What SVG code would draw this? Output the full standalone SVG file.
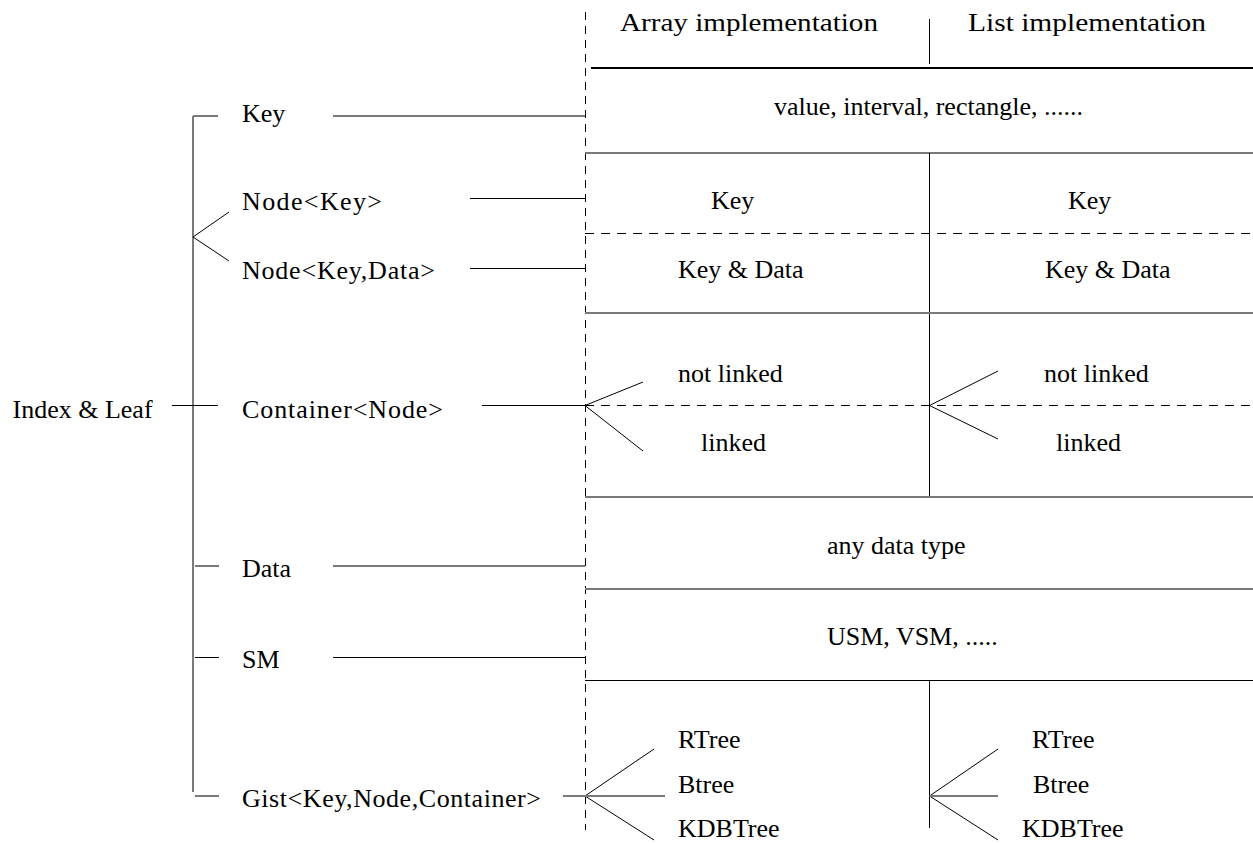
<svg xmlns="http://www.w3.org/2000/svg" width="1253" height="843" viewBox="0 0 1253 843">
<style>
text{font-family:"Liberation Serif","Times New Roman",serif;font-size:26px;fill:#000}
.k{stroke:#000;stroke-width:1;fill:none}
.g{stroke:#7a7a7a;stroke-width:2;fill:none}
.dv{stroke:#000;stroke-width:1;stroke-dasharray:8 6;fill:none}
.dh{stroke:#000;stroke-width:1;stroke-dasharray:9 7;fill:none}
</style>
<rect width="1253" height="843" fill="#fff"/>
<g id="connectors">
  <line class="g" x1="193" y1="116" x2="193" y2="792"/>
  <line class="k" x1="172" y1="405.5" x2="218" y2="405.5"/>
  <line class="g" x1="193" y1="116" x2="218" y2="116"/>
  <line class="g" x1="333" y1="116" x2="585" y2="116"/>
  <polyline class="k" points="229,212 193,237 229,261"/>
  <line class="k" x1="470" y1="198.5" x2="585" y2="198.5"/>
  <line class="k" x1="470" y1="268.5" x2="585" y2="268.5"/>
  <line class="k" x1="482" y1="405.5" x2="585" y2="405.5"/>
  <line class="g" x1="195" y1="566" x2="219" y2="566"/>
  <line class="g" x1="333" y1="566" x2="585" y2="566"/>
  <line class="k" x1="195" y1="657.5" x2="219" y2="657.5"/>
  <line class="k" x1="333" y1="657.5" x2="585" y2="657.5"/>
  <line class="g" x1="195" y1="796" x2="219" y2="796"/>
  <line class="g" x1="563" y1="796" x2="585" y2="796"/>
  <line class="dv" x1="585.5" y1="12" x2="585.5" y2="830"/>
  <line class="k" x1="929.5" y1="19" x2="929.5" y2="64"/>
  <line stroke="#000" stroke-width="2" x1="591" y1="68" x2="1253" y2="68"/>
  <line class="g" x1="585" y1="153" x2="1253" y2="153"/>
  <line class="k" x1="929.5" y1="153" x2="929.5" y2="497"/>
  <line class="dh" x1="585" y1="233.5" x2="1253" y2="233.5"/>
  <line class="g" x1="585" y1="313" x2="1253" y2="313"/>
  <line class="dh" x1="585" y1="405.5" x2="1253" y2="405.5"/>
  <polyline class="k" points="643,382 585,405.5 643,451"/>
  <polyline class="k" points="998,371 929.5,405.5 998,439"/>
  <line class="g" x1="585" y1="497" x2="1253" y2="497"/>
  <line class="g" x1="585" y1="589" x2="1253" y2="589"/>
  <line class="k" x1="585" y1="680.5" x2="1253" y2="680.5"/>
  <line class="k" x1="929.5" y1="680" x2="929.5" y2="828"/>
  <polyline class="k" points="654,749 585,796 654,840"/>
  <line class="g" x1="585" y1="796" x2="665" y2="796"/>
  <polyline class="k" points="998,749 929.5,796 998,840"/>
  <line class="g" x1="929.5" y1="796" x2="998" y2="796"/>
</g>
<g id="root"><text x="12.5" y="418">Index &amp; Leaf</text></g>
<g id="key"><text x="242" y="122">Key</text></g>
<g id="node-key"><text x="242" y="210" textLength="140" lengthAdjust="spacing">Node&lt;Key&gt;</text></g>
<g id="node-key-data"><text x="242" y="279" textLength="193" lengthAdjust="spacing">Node&lt;Key,Data&gt;</text></g>
<g id="container"><text x="242" y="418" textLength="201" lengthAdjust="spacing">Container&lt;Node&gt;</text></g>
<g id="data"><text x="242" y="577">Data</text></g>
<g id="sm"><text x="242" y="668">SM</text></g>
<g id="gist"><text x="242" y="807" textLength="299" lengthAdjust="spacing">Gist&lt;Key,Node,Container&gt;</text></g>
<g id="header-array"><text x="620" y="31" textLength="258" lengthAdjust="spacingAndGlyphs">Array implementation</text></g>
<g id="header-list"><text x="968" y="31" textLength="238" lengthAdjust="spacingAndGlyphs">List implementation</text></g>
<g id="row-key"><text x="774" y="115">value, interval, rectangle, ......</text></g>
<g id="row-node-key"><text x="711" y="209">Key</text><text x="1068" y="209">Key</text></g>
<g id="row-node-key-data"><text x="678" y="278">Key &amp; Data</text><text x="1045" y="278">Key &amp; Data</text></g>
<g id="row-container">
  <text x="678" y="382">not linked</text><text x="1044" y="382">not linked</text>
  <text x="701" y="451">linked</text><text x="1056" y="451">linked</text>
</g>
<g id="row-data"><text x="827" y="554">any data type</text></g>
<g id="row-sm"><text x="827" y="645">USM, VSM, .....</text></g>
<g id="row-gist">
  <text x="678" y="748">RTree</text><text x="1032" y="748">RTree</text>
  <text x="678" y="793">Btree</text><text x="1033" y="793">Btree</text>
  <text x="678" y="837">KDBTree</text><text x="1022" y="837">KDBTree</text>
</g>
</svg>
